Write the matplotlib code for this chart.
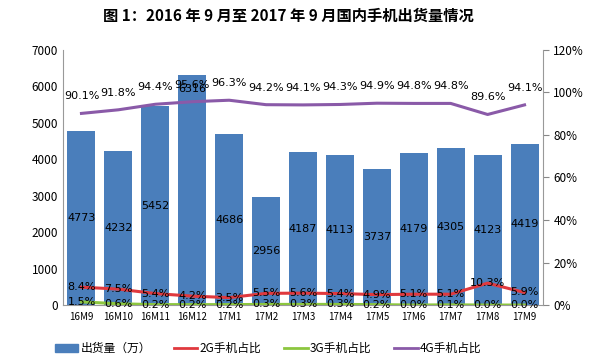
import numpy as np
import matplotlib.pyplot as plt
from matplotlib.patches import Patch
from matplotlib.lines import Line2D

plt.rcParams['font.family'] = ['Noto Sans CJK SC', 'DejaVu Sans']

months = ['16M9', '16M10', '16M11', '16M12', '17M1', '17M2', '17M3',
          '17M4', '17M5', '17M6', '17M7', '17M8', '17M9']
shipments = [4773, 4232, 5452, 6316, 4686, 2956, 4187, 4113, 3737, 4179, 4305, 4123, 4419]
share_2g = [8.4, 7.5, 5.4, 4.2, 3.5, 5.5, 5.6, 5.4, 4.9, 5.1, 5.1, 10.3, 5.9]
share_3g = [1.5, 0.6, 0.2, 0.2, 0.2, 0.3, 0.3, 0.3, 0.2, 0.0, 0.1, 0.0, 0.0]
share_4g = [90.1, 91.8, 94.4, 95.6, 96.3, 94.2, 94.1, 94.3, 94.9, 94.8, 94.8, 89.6, 94.1]

c_bar = '#4a7ebb'
c_2g = '#e0393e'
c_3g = '#8cc63f'
c_4g = '#8a5aa8'

fig = plt.figure(figsize=(6, 3.61), dpi=100)
ax = fig.add_axes([0.105, 0.155, 0.8, 0.707])
ax2 = ax.twinx()

x = np.arange(len(months))
ax.bar(x, shipments, width=0.76, color=c_bar, zorder=2)
top = int(np.argmax(shipments))
for xi, v in zip(x, shipments):
    # the tallest bar's label sits at the top of the bar in the original
    yl = v - 400 if xi == top else v / 2
    ax.text(xi, yl, str(v), ha='center', va='center', fontsize=8, family='DejaVu Sans')

ax.set_ylim(0, 7000)
ax.set_xlim(-0.5, len(months) - 0.5)
ax.set_yticks(range(0, 7001, 1000))
ax.set_xticks(x)
ax.set_xticklabels(months, fontsize=7)
ax.tick_params(axis='y', length=0, labelsize=8.5)
ax.tick_params(axis='x', length=0, pad=5)

ax2.plot(x, share_2g, color=c_2g, lw=2.2, zorder=3)
ax2.plot(x, share_3g, color=c_3g, lw=2.2, zorder=3)
ax2.plot(x, share_4g, color=c_4g, lw=2.2, zorder=3)
for xi, a, b, c in zip(x, share_2g, share_3g, share_4g):
    ax2.text(xi, a, f'{a:.1f}%', ha='center', va='center', fontsize=8, family='DejaVu Sans')
    ax2.text(xi, b, f'{b:.1f}%', ha='center', va='center', fontsize=8, family='DejaVu Sans')
    ax2.text(xi, c + 8, f'{c:.1f}%', ha='center', va='center', fontsize=8, family='DejaVu Sans')
ax2.set_ylim(0, 120)
ax2.set_yticks(range(0, 121, 20))
ax2.set_yticklabels([f'{t}%' for t in range(0, 121, 20)])
ax2.tick_params(axis='y', length=4, labelsize=8.5, color='#888888')

for a in (ax, ax2):
    a.spines['top'].set_visible(False)
    for s in ('left', 'right', 'bottom'):
        a.spines[s].set_color('#999999')
ax2.spines['left'].set_visible(False)
ax.spines['right'].set_visible(False)
ax2.spines['bottom'].set_visible(False)

fig.text(0.48, 0.955, '图 1：2016 年 9 月至 2017 年 9 月国内手机出货量情况',
         ha='center', va='center', fontsize=11, fontweight='bold')

handles = [Patch(color=c_bar), Line2D([], [], color=c_2g, lw=2),
           Line2D([], [], color=c_3g, lw=2), Line2D([], [], color=c_4g, lw=2)]
labels = ['出货量（万）', '2G手机占比', '3G手机占比', '4G手机占比']
fig.legend(handles, labels, loc='center', bbox_to_anchor=(0.447, 0.035), ncol=4,
           frameon=False, fontsize=8.5, handlelength=2.0, columnspacing=1.9,
           handletextpad=0.2)

fig.savefig('out.png', dpi=100)
